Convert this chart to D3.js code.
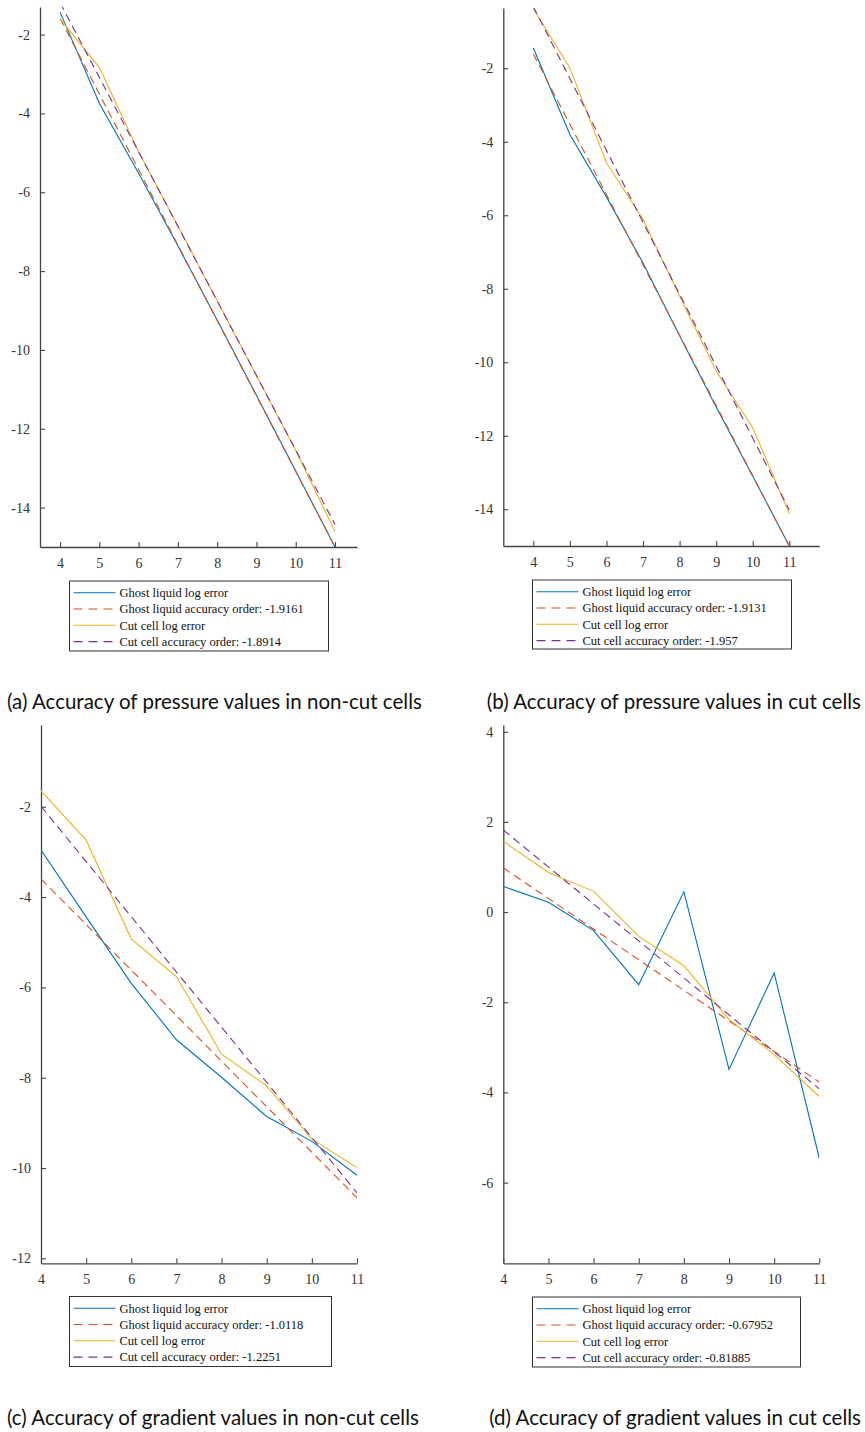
<!DOCTYPE html>
<html>
<head>
<meta charset="utf-8">
<script src="https://cdn.jsdelivr.net/npm/d3@7"></script>
<style>
  html, body { margin: 0; padding: 0; background: #fff; }
  svg { display: block; }
</style>
</head>
<body>
<svg id="chart" width="865" height="1432"></svg>
<script>
// ---- data ----
const xValues = [4, 5, 6, 7, 8, 9, 10, 11];
const fitX = [4, 11];

// (a) pressure, non-cut cells
const aGhostError = [-1.43, -3.74, -5.52, -7.36, -9.24, -11.15, -13.07, -15.0];
const aGhostFit   = [-1.59, -15.0];
const aCutError   = [-1.60, -2.83, -4.97, -6.85, -8.75, -10.65, -12.55, -14.61];
const aCutFit     = [-1.19, -14.43];

// (b) pressure, cut cells
const bGhostError = [-1.45, -3.80, -5.50, -7.30, -9.28, -11.22, -13.10, -15.0];
const bGhostFit   = [-1.61, -15.0];
const bCutError   = [-0.38, -1.99, -4.57, -6.11, -8.20, -10.24, -11.78, -14.12];
const bCutFit     = [-0.32, -14.02];

// (c) gradient, non-cut cells
const cGhostError = [-2.96, -4.44, -5.91, -7.16, -7.99, -8.86, -9.41, -10.16];
const cGhostFit   = [-3.60, -10.66];
const cCutError   = [-1.65, -2.74, -4.93, -5.76, -7.48, -8.18, -9.36, -9.99];
const cCutFit     = [-1.99, -10.55];

// (d) gradient, cut cells
const dGhostError = [0.57, 0.22, -0.41, -1.61, 0.45, -3.49, -1.35, -5.46];
const dGhostFit   = [0.98, -3.77];
const dCutError   = [1.57, 0.88, 0.46, -0.54, -1.19, -2.38, -3.16, -4.09];
const dCutFit     = [1.82, -3.92];

const xTicks = [4, 5, 6, 7, 8, 9, 10, 11];
const yTicksPressure = [-14, -12, -10, -8, -6, -4, -2];
const yTicksGradNonCut = [-12, -10, -8, -6, -4, -2];
const yTicksGradCut = [-6, -4, -2, 0, 2, 4];

const legendA = ["Ghost liquid log error", "Ghost liquid accuracy order: -1.9161", "Cut cell log error", "Cut cell accuracy order: -1.8914"];
const legendB = ["Ghost liquid log error", "Ghost liquid accuracy order: -1.9131", "Cut cell log error", "Cut cell accuracy order: -1.957"];
const legendC = ["Ghost liquid log error", "Ghost liquid accuracy order: -1.0118", "Cut cell log error", "Cut cell accuracy order: -1.2251"];
const legendD = ["Ghost liquid log error", "Ghost liquid accuracy order: -0.67952", "Cut cell log error", "Cut cell accuracy order: -0.81885"];

const captions = [
  "(a) Accuracy of pressure values in non-cut cells",
  "(b) Accuracy of pressure values in cut cells",
  "(c) Accuracy of gradient values in non-cut cells",
  "(d) Accuracy of gradient values in cut cells"
];

const colors = ["#0072BD", "#D95319", "#EDB120", "#7E2F8E"];
const dashed = [false, true, false, true];

// ---- layout ----
const panels = [
  { id: "a", xDom: [3.49, 11.56], xRange: [40, 357], yDom: [-15, -1.30], yRange: [547, 7],
    yTicks: yTicksPressure, series: [aGhostError, aGhostFit, aCutError, aCutFit], legend: legendA,
    legBox: [69.5, 581, 259, 70], caption: captions[0], capX: 7, capAnchor: "start", capY: 709 },
  { id: "b", xDom: [3.18, 11.82], xRange: [503.3, 819.3], yDom: [-15, -0.36], yRange: [546, 8],
    yTicks: yTicksPressure, series: [bGhostError, bGhostFit, bCutError, bCutFit], legend: legendB,
    legBox: [532.5, 580, 259, 69], caption: captions[1], capX: 861, capAnchor: "end", capY: 709 },
  { id: "c", xDom: [4, 11], xRange: [41, 357], yDom: [-12.11, -0.19], yRange: [1263.3, 725],
    yTicks: yTicksGradNonCut, series: [cGhostError, cGhostFit, cCutError, cCutFit], legend: legendC,
    legBox: [69.5, 1296.5, 262, 70], caption: captions[2], capX: 7, capAnchor: "start", capY: 1425 },
  { id: "d", xDom: [4, 11], xRange: [503.3, 819.3], yDom: [-7.79, 4.15], yRange: [1263.3, 725],
    yTicks: yTicksGradCut, series: [dGhostError, dGhostFit, dCutError, dCutFit], legend: legendD,
    legBox: [532.5, 1297, 268, 70], caption: captions[3], capX: 861, capAnchor: "end", capY: 1425 }
];

const svg = d3.select("#chart");
const axisColor = "#444";

panels.forEach(p => {
  const x = d3.scaleLinear().domain(p.xDom).range(p.xRange);
  const y = d3.scaleLinear().domain(p.yDom).range(p.yRange);
  const g = svg.append("g");

  const clipId = "clip-" + p.id;
  svg.append("defs").append("clipPath").attr("id", clipId)
    .append("rect")
    .attr("x", p.xRange[0]).attr("y", p.yRange[1])
    .attr("width", p.xRange[1] - p.xRange[0])
    .attr("height", p.yRange[0] - p.yRange[1]);

  const yAxis = d3.axisLeft(y).tickValues(p.yTicks).tickSizeInner(-5).tickSizeOuter(0).tickPadding(10)
    .tickFormat(d3.format("d"));
  const ya = g.append("g").attr("transform", `translate(${p.xRange[0]},0)`).call(yAxis);
  const xAxis = d3.axisBottom(x).tickValues(xTicks).tickSizeInner(-5).tickSizeOuter(0).tickPadding(11)
    .tickFormat(d3.format("d"));
  const xa = g.append("g").attr("transform", `translate(0,${p.yRange[0]})`).call(xAxis);

  [ya, xa].forEach(a => {
    a.select(".domain").attr("stroke", axisColor).attr("stroke-width", 1.3);
    a.selectAll(".tick line").attr("stroke", axisColor).attr("stroke-width", 1.1);
    a.selectAll(".tick text").attr("fill", "#333")
      .style("font-family", "'Liberation Serif', 'Times New Roman', serif")
      .style("font-size", "14px");
  });
  ya.selectAll(".tick text").text(d => String(d));

  const plot = g.append("g").attr("clip-path", `url(#${clipId})`);
  const line = d3.line().x(d => x(d[0])).y(d => y(d[1]));

  p.series.forEach((vals, i) => {
    const xs = vals.length === 2 ? fitX : xValues;
    const pts = xs.map((xv, k) => [xv, vals[k]]);
    plot.append("path")
      .attr("d", line(pts))
      .attr("fill", "none")
      .attr("stroke", colors[i])
      .attr("stroke-width", 1.1)
      .attr("stroke-dasharray", dashed[i] ? "8,5" : null);
  });

  const [lx, ly, lw, lh] = p.legBox;
  const lg = g.append("g");
  lg.append("rect").attr("x", lx).attr("y", ly).attr("width", lw).attr("height", lh)
    .attr("fill", "#fff").attr("stroke", "#333").attr("stroke-width", 1);
  p.legend.forEach((t, i) => {
    const cy = ly + 11.7 + i * 16.3;
    lg.append("line")
      .attr("x1", lx + 4).attr("x2", lx + 46)
      .attr("y1", cy).attr("y2", cy)
      .attr("stroke", colors[i]).attr("stroke-width", 1.1)
      .attr("stroke-dasharray", dashed[i] ? "9,6" : null);
    lg.append("text")
      .attr("x", lx + 50).attr("y", cy + 4.3)
      .attr("fill", "#111")
      .style("font-family", "'Liberation Serif', 'Times New Roman', serif")
      .style("font-size", "12.5px")
      .text(t);
  });

  svg.append("text")
    .attr("x", p.capX).attr("y", p.capY)
    .attr("text-anchor", p.capAnchor)
    .attr("fill", "#111")
    .style("font-family", "Lato, 'Open Sans', sans-serif")
    .style("font-size", "20.5px")
    .text(p.caption);
});
</script>
</body>
</html>
